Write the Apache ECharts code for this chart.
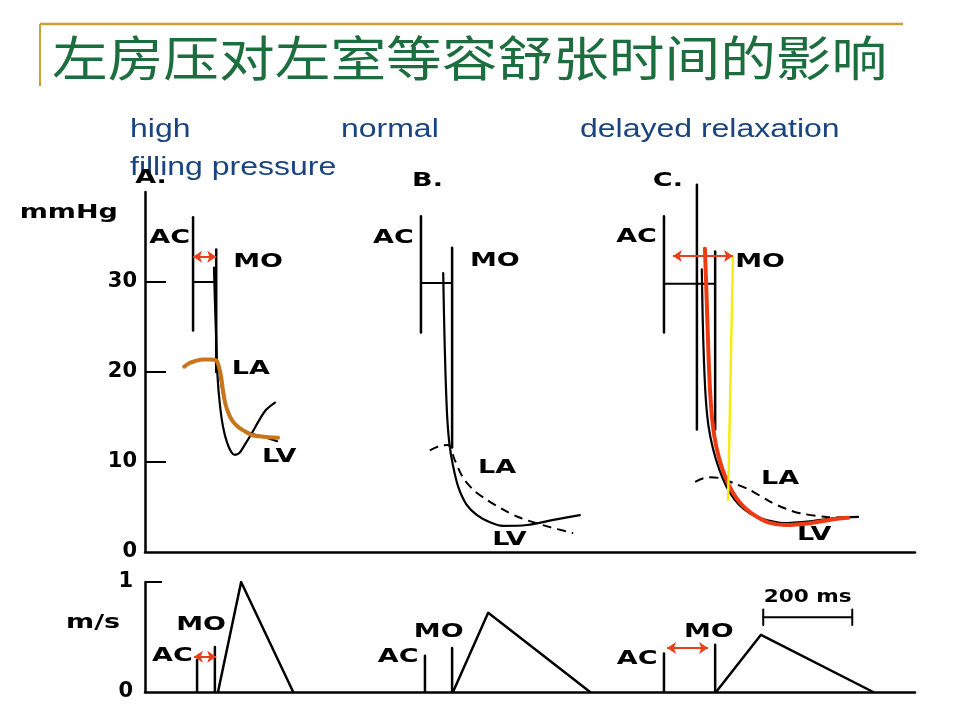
<!DOCTYPE html>
<html>
<head>
<meta charset="utf-8">
<script src="https://cdn.jsdelivr.net/npm/echarts@6/dist/echarts.min.js"></script>
<style>html,body{margin:0;padding:0;background:#fff}#c{width:960px;height:720px}</style>
</head>
<body>
<div id="c"></div>
<script>
// ---------- data (x in ms, y in mmHg for top panel, m/s for bottom panel) ----------
const X_MAX = 1730;
const pressureTicks = [0, 10, 20, 30];
const velocityTicks = [0, 1];

// vertical event markers in pressure panel: [x, yBottom, yTop]
const acTop = [[108, 24.6, 37.2], [620, 24.4, 37.3], [1166, 24.4, 37.3]];
const moTop = [[160, 20.0, 33.6], [690, 11.6, 33.8], [1281, 13.6, 33.4]];
const tallC = [1240, 13.6, 40.8];
// horizontal connector at ~30 mmHg: [x1, x2, y]
const barTop = [[108, 157, 30.0], [620, 690, 29.9], [1166, 1281, 29.8]];

// LV pressure curves
const lvA = [[155,31.6],[157,28.0],[160,23.6],[163,19.5],[168,16.5],[175,14.0],[184,12.2],[194,11.1],[202,10.8],[212,11.0],[224,11.9],[240,13.2],[256,14.6],[272,15.8],[292,16.6]];
const lvB = [[670,31.0],[672,25.8],[675,20.0],[679,15.0],[684,12.0],[692,9.6],[704,7.2],[722,5.3],[746,4.1],[775,3.3],[804,2.9],[858,3.0],[921,3.6],[977,4.1]];
const lvC = [[1251,31.4],[1253,26.0],[1256,21.0],[1260,17.0],[1266,14.0],[1276,11.5],[1290,9.2],[1306,7.3],[1325,5.8],[1345,4.8],[1370,4.0],[1400,3.5],[1433,3.2],[1494,3.4],[1555,3.8],[1602,3.9]];
// LA pressure curves
const laA = [[160,21.6],[166,20.4],[172,18.4],[180,16.4],[192,14.8],[209,13.9],[236,13.2],[265,12.8],[297,12.3]];
const laB = [[640,11.3],[663,11.8],[681,11.9],[696,10.2],[714,8.3],[740,6.8],[768,5.8],[805,4.7],[843,3.8],[900,2.9],[962,2.1]];
const laC = [[1236,7.8],[1265,8.3],[1292,8.2],[1325,7.6],[1359,6.9],[1404,5.6],[1440,4.8],[1472,4.3],[1532,3.9],[1584,3.8]];
// hand-drawn highlights
const orangeA = [[88,20.6],[100,21.0],[112,21.2],[130,21.4],[146,21.4],[160,21.3],[166,20.6],[171,19.5],[175,18.0],[180,16.6],[187,15.5],[196,14.6],[207,14.0],[218,13.6],[240,13.0],[267,12.8],[299,12.7]];
const redC = [[1258,33.7],[1262,28.0],[1266,22.0],[1270,17.5],[1276,14.0],[1284,11.6],[1296,9.4],[1312,7.4],[1330,5.9],[1350,4.8],[1372,4.0],[1400,3.3],[1438,3.0],[1494,3.2],[1555,3.7],[1580,3.8]];
const yellowC = [[1321,32.8],[1310,5.8]];
// red double arrows: [x1, x2, y, gridIndex]
const arrows = [[108,160,32.8,0],[1186,1321,32.9,0],[110,160,0.32,1],[1173,1265,0.40,1]];

// mitral flow panel
const acBot = [[117,0.29],[629,0.33],[1166,0.35]];
const moBot = [[157,0.41],[690,0.40],[1281,0.43]];
const flowA = [[164,0],[216,1.0],[333,0]];
const flowB = [[692,0],[771,0.72],[1000,0]];
const flowC = [[1283,0],[1384,0.52],[1636,0]];
const scaleBar = [1389, 1589, 0.68, 0.61, 0.75];

// text annotations: [text, gridIndex, x, y, align]
const labels = [
  ['mmHg',0,-61,37.7,'right'],
  ['A.',0,-22,41.6,'left'],['B.',0,600,41.3,'left'],['C.',0,1141,41.3,'left'],
  ['AC',0,101,34.9,'right'],['MO',0,198,32.3,'left'],['LA',0,195,20.4,'left'],['LV',0,263,10.6,'left'],
  ['AC',0,604,34.9,'right'],['MO',0,730,32.4,'left'],['LA',0,748,9.4,'left'],['LV',0,780,1.4,'left'],
  ['AC',0,1150,35.0,'right'],['MO',0,1326,32.3,'left'],['LA',0,1384,8.1,'left'],['LV',0,1465,1.9,'left'],
  ['m/s',1,-56,0.63,'right'],
  ['MO',1,70,0.61,'left'],['AC',1,16,0.33,'left'],
  ['MO',1,604,0.55,'left'],['AC',1,523,0.32,'left'],
  ['MO',1,1211,0.55,'left'],['AC',1,1060,0.30,'left'],
  ['200 ms',1,1489,0.86,'center']
];
const titleText = '左房压对左室等容舒张时间的影响';
const blueLabels = [['high',130,130],['normal',341,130],['delayed relaxation',580,130],['filling pressure',130,168]];

// ---------- chart ----------
const chart = echarts.init(document.getElementById('c'));
const series = [];
function addLine(g, data, color, width, extra) {
  series.push(Object.assign({
    type: 'line', xAxisIndex: g, yAxisIndex: g, data: data, symbol: 'none',
    lineStyle: { color: color, width: width, cap: 'round', join: 'round' }, silent: true, animation: false
  }, extra || {}));
}
acTop.forEach(d => addLine(0, [[d[0], d[1]], [d[0], d[2]]], '#000', 2.5));
moTop.forEach(d => addLine(0, [[d[0], d[1]], [d[0], d[2]]], '#000', 2.5));
addLine(0, [[tallC[0], tallC[1]], [tallC[0], tallC[2]]], '#000', 2.5, { clip: false });
barTop.forEach(d => addLine(0, [[d[0], d[2]], [d[1], d[2]]], '#000', 2));
[lvA, lvB, lvC].forEach(d => addLine(0, d, '#000', 2.2, { smooth: 0.3 }));
addLine(0, laA, '#000', 2, { smooth: 0.3 });
[laB, laC].forEach(d => addLine(0, d, '#000', 2, { smooth: 0.3, lineStyle: { color: '#000', width: 2, type: [9, 6] } }));
addLine(0, orangeA, '#C8761C', 4, { smooth: 0.3 });
addLine(0, redC, '#EE3A12', 4, { smooth: 0.3 });
addLine(0, yellowC, '#F2EE10', 2.5);

acBot.forEach(d => addLine(1, [[d[0], 0], [d[0], d[1]]], '#000', 2.5));
moBot.forEach(d => addLine(1, [[d[0], 0], [d[0], d[1]]], '#000', 2.5));
[flowA, flowB, flowC].forEach(d => addLine(1, d, '#000', 2.5));
addLine(1, [[scaleBar[0], scaleBar[2]], [scaleBar[1], scaleBar[2]]], '#000', 2);
addLine(1, [[scaleBar[0], scaleBar[3]], [scaleBar[0], scaleBar[4]]], '#000', 2);
addLine(1, [[scaleBar[1], scaleBar[3]], [scaleBar[1], scaleBar[4]]], '#000', 2);

arrows.forEach(a => {
  series.push({
    type: 'line', xAxisIndex: a[3], yAxisIndex: a[3], data: [], symbol: 'none', silent: true, animation: false,
    markLine: {
      silent: true, animation: false, symbol: ['arrow', 'arrow'], symbolSize: [9, 9],
      lineStyle: { color: '#E8401C', width: 2, type: 'solid' }, label: { show: false },
      data: [[{ coord: [a[0], a[2]] }, { coord: [a[1], a[2]] }]]
    }
  });
});

const tickLabel = { fontFamily: 'DejaVu Sans', fontWeight: 'bold', fontSize: 21, color: '#000' };
chart.setOption({
  animation: false,
  grid: [
    { left: 145, right: 45, top: 192, height: 360 },
    { left: 145, right: 45, top: 582, height: 110 }
  ],
  xAxis: [0, 1].map(g => ({
    type: 'value', gridIndex: g, min: 0, max: X_MAX,
    axisLine: { show: true, lineStyle: { color: '#000', width: 2.5 } },
    axisTick: { show: false }, axisLabel: { show: false }, splitLine: { show: false }
  })),
  yAxis: [
    {
      type: 'value', gridIndex: 0, min: 0, max: 40, interval: 10,
      axisLine: { show: true, lineStyle: { color: '#000', width: 2.5 } },
      axisTick: { show: true, inside: true, length: 21, customValues: [10, 20, 30], lineStyle: { color: '#000', width: 2 } },
      axisLabel: Object.assign({ customValues: pressureTicks, margin: 8 }, tickLabel),
      splitLine: { show: false }
    },
    {
      type: 'value', gridIndex: 1, min: 0, max: 1, interval: 1,
      axisLine: { show: true, lineStyle: { color: '#000', width: 2.5 } },
      axisTick: { show: true, inside: true, length: 17, customValues: [1], lineStyle: { color: '#000', width: 2 } },
      axisLabel: Object.assign({ customValues: velocityTicks, margin: 12 }, tickLabel),
      splitLine: { show: false }
    }
  ],
  series: series
});

const graphics = [
  { type: 'line', shape: { x1: 40, y1: 24, x2: 903, y2: 24 }, style: { stroke: '#C9A035', lineWidth: 2.5 } },
  { type: 'line', shape: { x1: 40, y1: 24, x2: 40, y2: 86 }, style: { stroke: '#C9A035', lineWidth: 2 } },
  { type: 'text', x: 52, y: 58, scaleX: 1.16,
    style: { text: titleText, fontFamily: 'Noto Sans CJK SC', fontSize: 48, fill: '#1D6E3E', align: 'left', verticalAlign: 'middle', textAlign: 'left', textVerticalAlign: 'middle' } }
];
blueLabels.forEach(b => graphics.push({
  type: 'text', x: b[1], y: b[2], scaleX: 1.23,
  style: { text: b[0], fontFamily: 'Liberation Sans', fontSize: 26, fill: '#1A4480', align: 'left', verticalAlign: 'middle', textAlign: 'left', textVerticalAlign: 'middle' }
}));
labels.forEach(l => {
  const p = chart.convertToPixel({ gridIndex: l[1] }, [l[2], l[3]]);
  const isMs = l[0] === '200 ms';
  graphics.push({
    type: 'text', x: p[0], y: p[1], scaleX: isMs ? 1.2 : 1.35,
    style: { text: l[0], fontFamily: 'DejaVu Sans', fontWeight: 'bold', fontSize: isMs ? 18 : 20, fill: '#000',
      align: l[4], verticalAlign: 'middle', textAlign: l[4], textVerticalAlign: 'middle' }
  });
});
chart.setOption({ graphic: graphics });
</script>
</body>
</html>
